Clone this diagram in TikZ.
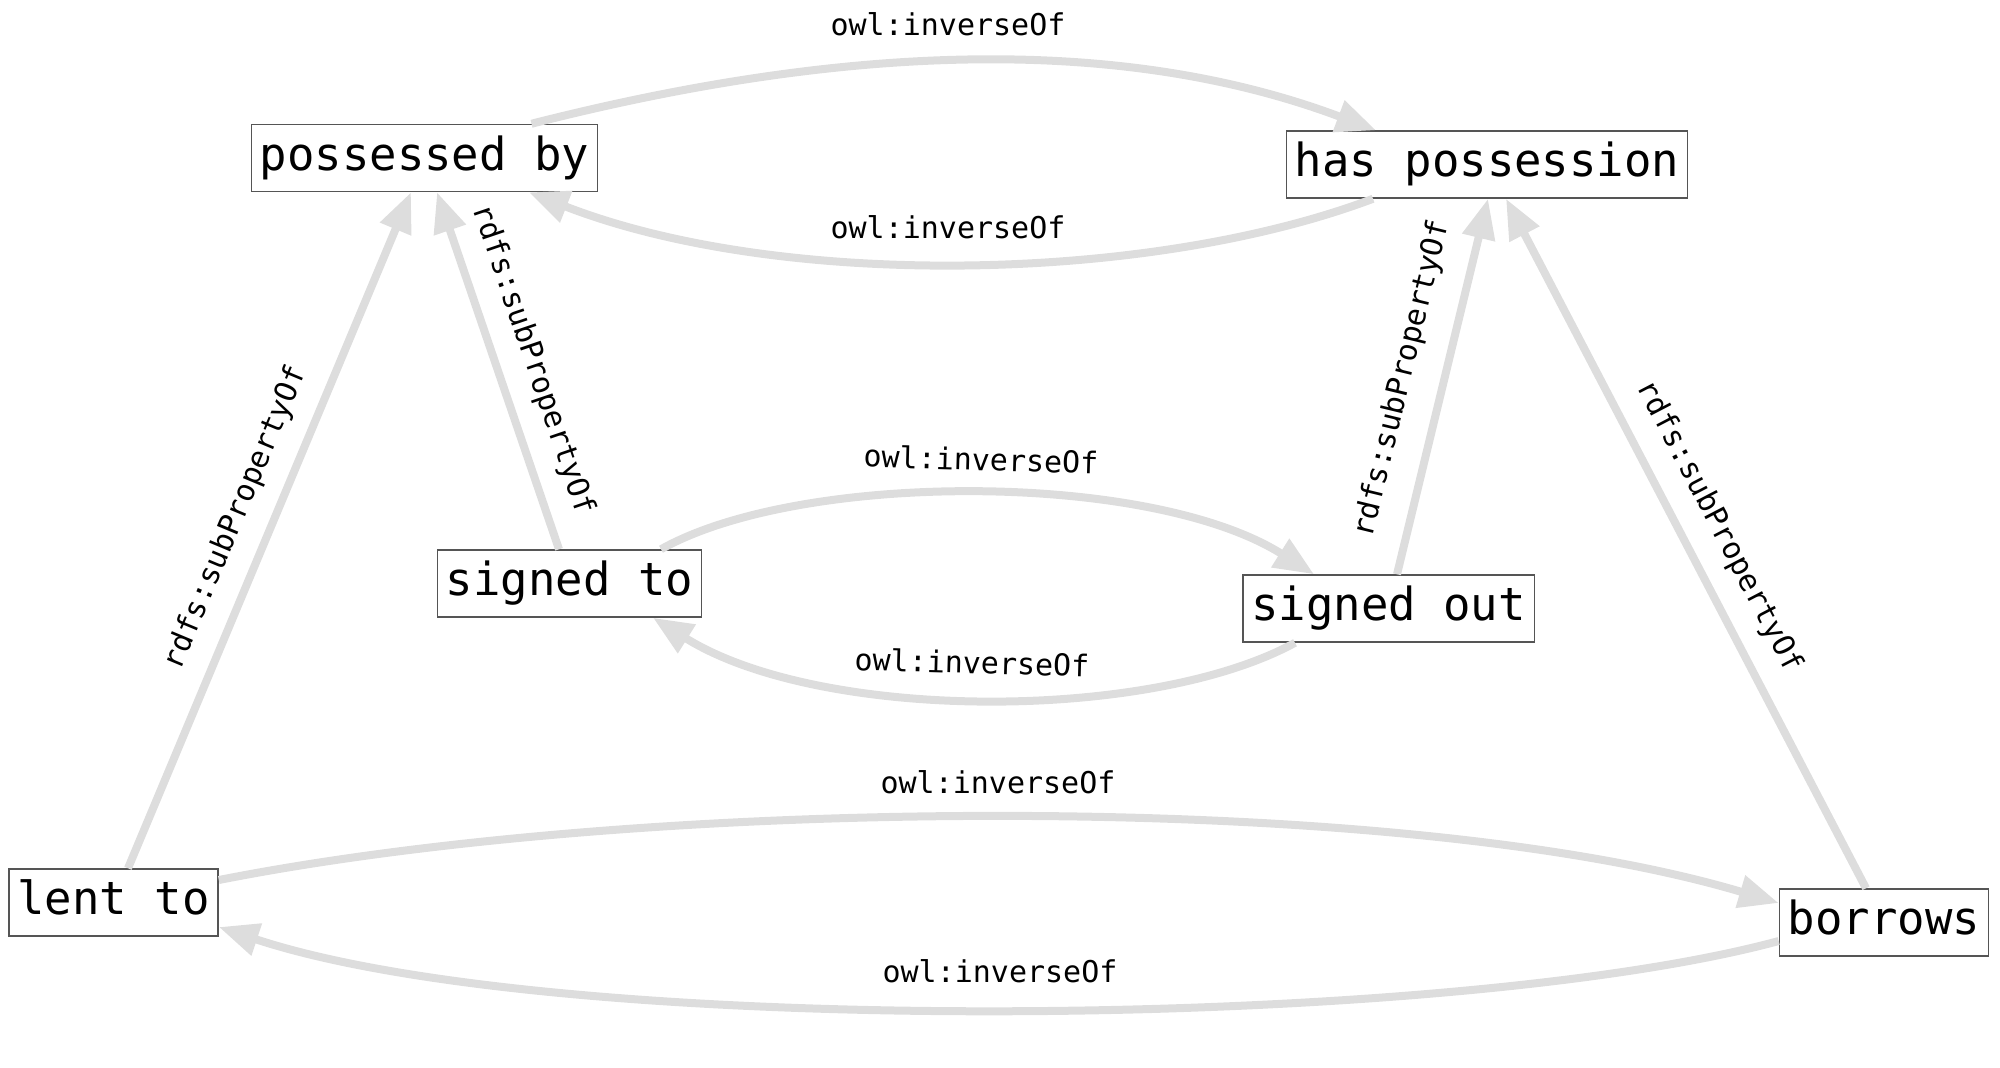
\documentclass[tikz,border=0pt]{standalone}
\usepackage{fontspec}
\newfontfamily\dmono{DejaVu Sans Mono}
\usetikzlibrary{arrows.meta,calc}
\definecolor{edgegray}{RGB}{221,221,221}
\definecolor{boxgray}{RGB}{85,85,85}
\begin{document}
\begin{tikzpicture}[x=0.5pt,y=-0.5pt,
  prop/.style={draw=boxgray, line width=0.75pt, fill=white,
    font=\dmono\fontsize{22.8pt}{27pt}\selectfont,
    inner xsep=4.25pt, inner ysep=0pt, minimum height=33.5pt,
    text height=16.5pt, text depth=4.5pt},
  rel/.style={draw=edgegray, line width=4pt, -{Triangle[length=20pt,width=16pt]}},
  lbl/.style={font=\dmono\fontsize{15pt}{18pt}\selectfont, inner sep=0pt}
]
\path[use as bounding box] (0,0) rectangle (2000,1067);

% nodes
\node[prop] (pb) at (424.5,158) {possessed by};
\node[prop] (hp) at (1487,164.5) {has possession};
\node[prop] (st) at (569.5,583.5) {signed to};
\node[prop] (so) at (1388.5,608.5) {signed out};
\node[prop] (lt) at (113.5,902.5) {lent to};
\node[prop] (bo) at (1884,922.5) {borrows};

% owl:inverseOf arcs
\draw[rel] ($(pb.north)+(107,0)$) .. controls (860,40) and (1130,38) .. ($(hp.north)+(-111,0)$);
\draw[rel] ($(hp.south)+(-114,0)$) .. controls (1150,283) and (780,290) .. ($(pb.south)+(104.5,0)$);
\draw[rel] ($(st.north)+(91.5,0)$) .. controls (800,471) and (1150,471) .. ($(so.north)+(-74.5,0)$);
\draw[rel] ($(so.south)+(-93.5,0)$) .. controls (1150,722) and (820,722) .. ($(st.south)+(83.5,0)$);
\draw[rel] ($(lt.east)+(0,-22.5)$) .. controls (650,795) and (1400,790) .. ($(bo.west)+(0,-19.5)$);
\draw[rel] ($(bo.west)+(0,18.5)$) .. controls (1450,1030) and (560,1040) .. ($(lt.east)+(0,24.5)$);

% rdfs:subPropertyOf lines
\draw[rel] ($(lt.north)+(14.5,0)$) -- ($(pb.south)+(-13.5,0)$);
\draw[rel] ($(st.north)+(-10.5,0)$) -- ($(pb.south)+(12.5,0)$);
\draw[rel] ($(so.north)+(8.5,0)$) -- ($(hp.south)+(1,0)$);
\draw[rel] ($(bo.north)+(-18,0)$) -- ($(hp.south)+(19,0)$);

% labels
\node[lbl] (l1) at (948,24) {owl:inverseOf};
\node[lbl] (l2) at (948,227) {owl:inverseOf};
\node[lbl,rotate=-1.6] (l3) at (981,459) {owl:inverseOf};
\node[lbl,rotate=-1.6] (l4) at (972,662) {owl:inverseOf};
\node[lbl] (l5) at (998,782) {owl:inverseOf};
\node[lbl] (l6) at (1000,971) {owl:inverseOf};
\node[lbl,rotate=67.3] (r1) at (236,518) {rdfs:subPropertyOf};
\node[lbl,rotate=-71.2] (r2) at (533,360) {rdfs:subPropertyOf};
\node[lbl,rotate=76.4] (r3) at (1402,379) {rdfs:subPropertyOf};
\node[lbl,rotate=-62.5] (r4) at (1719,527) {rdfs:subPropertyOf};
\end{tikzpicture}
\end{document}
